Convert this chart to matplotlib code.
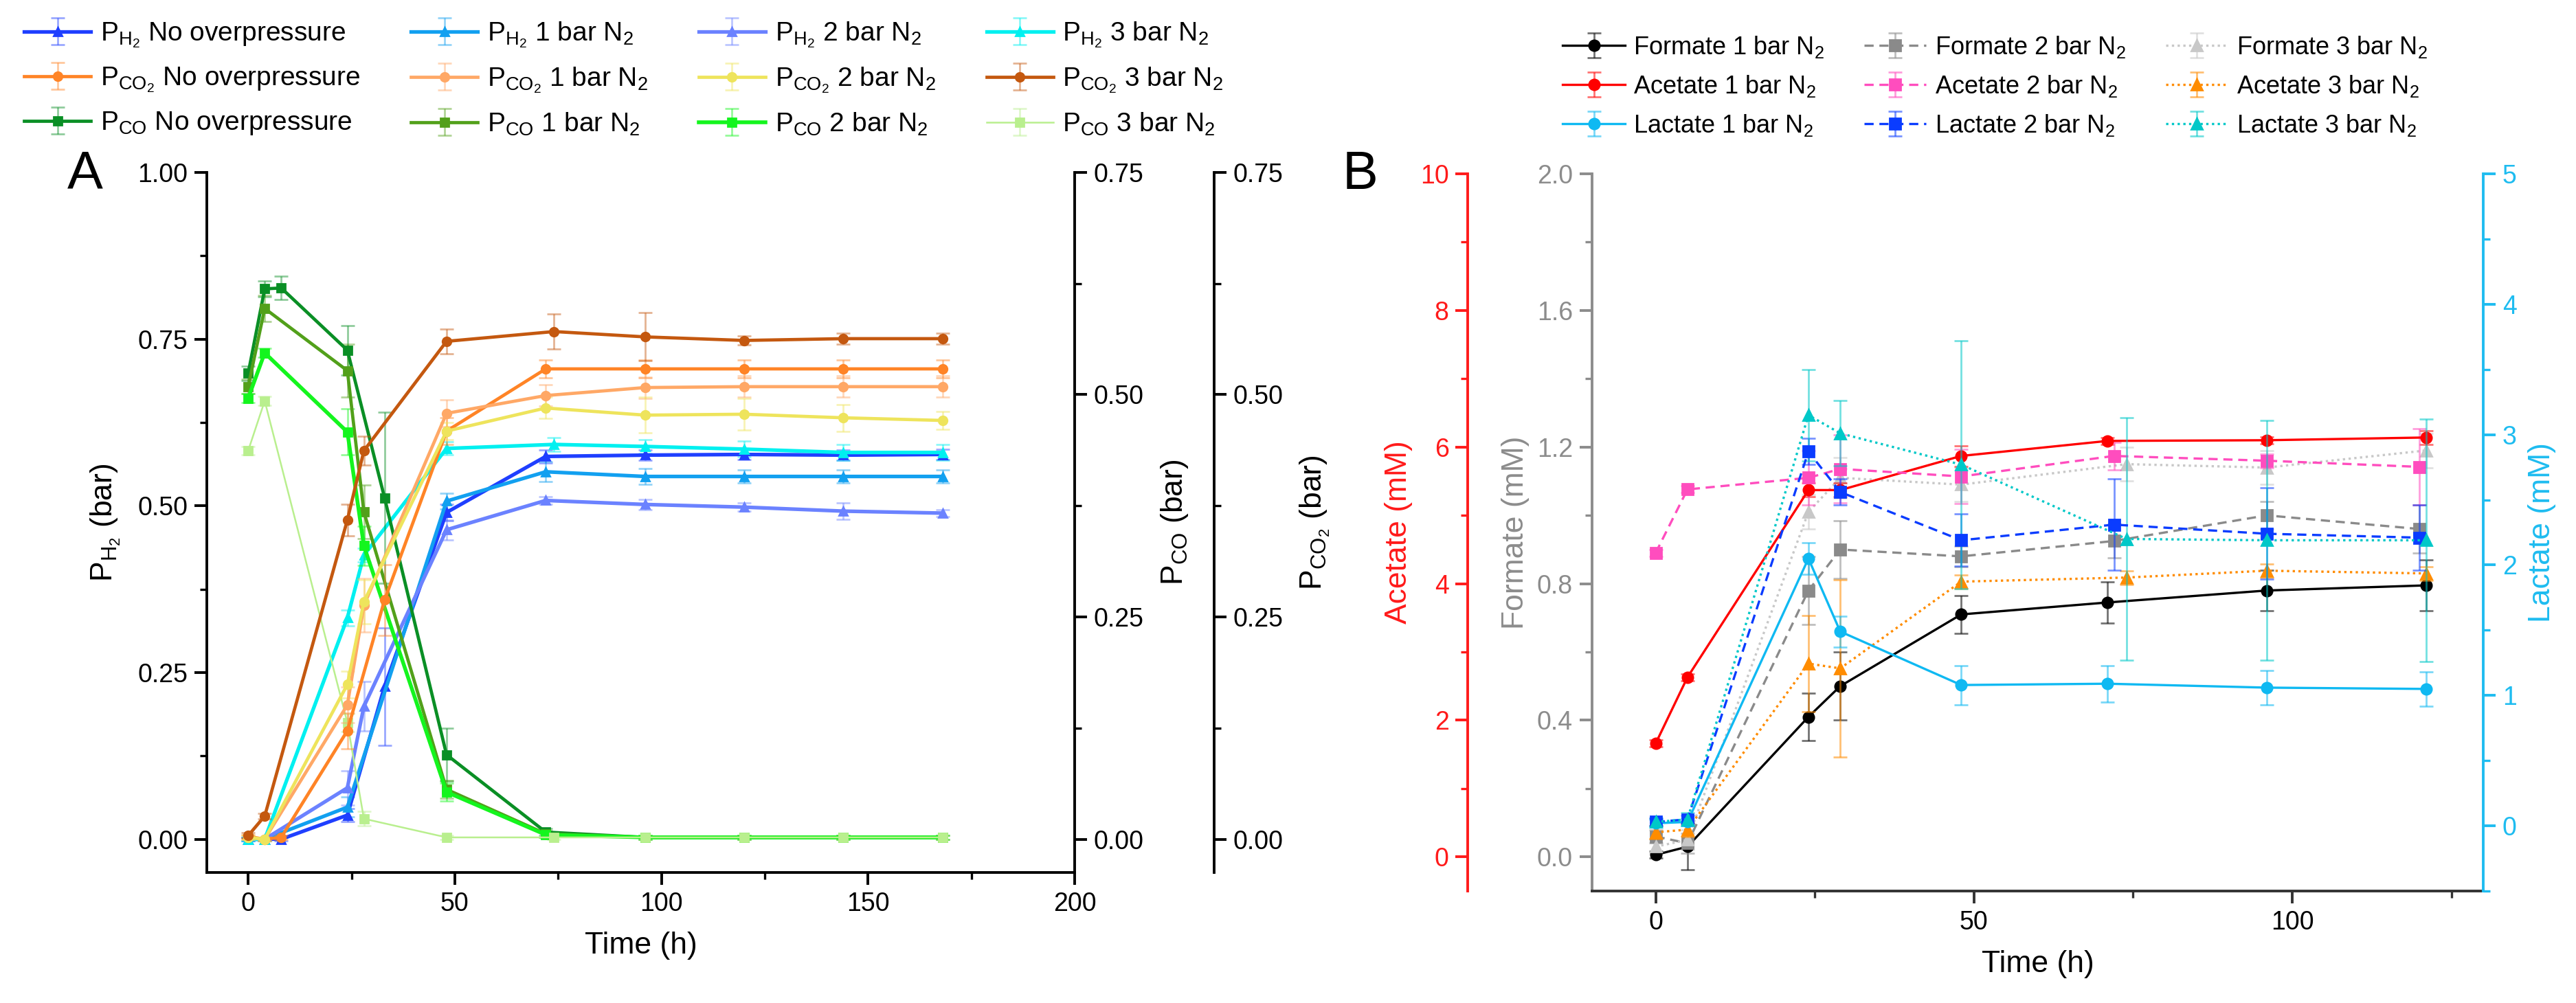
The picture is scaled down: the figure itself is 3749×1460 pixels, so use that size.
import numpy as np
import matplotlib
matplotlib.use("Agg")
import matplotlib.pyplot as plt
from matplotlib.ticker import MultipleLocator, FormatStrFormatter
from matplotlib.colors import to_rgba

plt.rcParams["font.family"] = ["Liberation Sans", "DejaVu Sans"]
plt.rcParams["mathtext.fontset"] = "custom"
plt.rcParams["mathtext.rm"] = "Liberation Sans"
plt.rcParams["mathtext.it"] = "Liberation Sans:italic"
plt.rcParams["mathtext.default"] = "regular"

nan = np.nan

# ---------------- Panel A data (H2 in left-axis bar, CO / CO2 in their own bar axes) ----------------
t_no = [0, 4, 8, 24, 33, 48, 72, 96, 120, 144, 168]
t_1bar = [0, 4, 24, 28, 48, 72, 96, 120, 144, 168]
t_2bar = [0, 4, 24, 28, 48, 72, 96, 120, 144, 168]
t_3bar = [0, 4, 24, 28, 48, 74, 96, 120, 144, 168]

h2_no = [0.0, 0.0, 0.0, 0.036, 0.229, 0.490, 0.574, 0.576, 0.577, 0.576, 0.577]
h2_1 = [0.0, 0.0, 0.048, nan, 0.507, 0.551, 0.544, 0.544, 0.544, 0.544]
h2_2 = [0.0, 0.0, 0.077, 0.199, 0.464, 0.508, 0.502, 0.498, 0.492, 0.489]
h2_3 = [0.0, 0.0, 0.332, 0.426, 0.586, 0.592, 0.589, 0.585, 0.580, 0.580]
h2_no_err = [0.003, 0.003, 0.003, 0.010, 0.088, 0.012, 0.010, 0.008, 0.008, 0.008, 0.008]
h2_1_err = [0.003, 0.003, 0.015, nan, 0.012, 0.015, 0.012, 0.010, 0.010, 0.010]
h2_2_err = [0.003, 0.003, 0.026, 0.037, 0.015, 0.006, 0.008, 0.006, 0.012, 0.005]
h2_3_err = [0.003, 0.003, 0.012, 0.010, 0.010, 0.010, 0.010, 0.012, 0.012, 0.012]

co2_no = [0.003, 0.0, 0.002, 0.122, 0.269, 0.459, 0.529, 0.529, 0.529, 0.529, 0.529]
co2_1 = [0.002, 0.0, 0.151, 0.263, 0.479, 0.499, 0.508, 0.509, 0.509, 0.509]
co2_2 = [0.002, 0.0, 0.174, 0.267, 0.459, 0.485, 0.477, 0.478, 0.474, 0.471]
co2_3 = [0.004, 0.026, 0.359, 0.437, 0.560, 0.571, 0.565, 0.561, 0.563, 0.563]
co2_no_err = [0.002, 0.002, 0.002, 0.020, 0.040, 0.015, 0.010, 0.010, 0.010, 0.010, 0.010]
co2_1_err = [0.002, 0.002, 0.020, 0.030, 0.015, 0.012, 0.012, 0.012, 0.012, 0.012]
co2_2_err = [0.002, 0.002, 0.015, 0.025, 0.010, 0.012, 0.020, 0.018, 0.015, 0.010]
co2_3_err = [0.003, 0.003, 0.018, 0.016, 0.014, 0.020, 0.027, 0.005, 0.006, 0.006]

co_no = [0.524, 0.619, 0.620, 0.550, 0.384, 0.095, 0.008, 0.002, 0.002, 0.002, 0.002]
co_1 = [0.509, 0.597, 0.527, 0.368, 0.056, 0.006, 0.002, 0.002, 0.002, 0.002]
co_2 = [0.496, 0.547, 0.458, 0.330, 0.053, 0.005, 0.002, 0.002, 0.002, 0.002]
co_3 = [0.437, 0.493, 0.131, 0.023, 0.002, 0.002, 0.002, 0.002, 0.002, 0.002]
co_no_err = [0.008, 0.009, 0.013, 0.028, 0.096, 0.030, 0.004, 0.002, 0.002, 0.002, 0.002]
co_1_err = [0.008, 0.015, 0.030, 0.030, 0.010, 0.004, 0.002, 0.002, 0.002, 0.002]
co_2_err = [0.005, 0.005, 0.026, 0.022, 0.010, 0.003, 0.002, 0.002, 0.002, 0.002]
co_3_err = [0.005, 0.005, 0.010, 0.008, 0.002, 0.002, 0.002, 0.002, 0.002, 0.002]

# ---------------- Panel B data ----------------
t_b1 = [0, 5, 24, 29, 48, 71, 96, 121]
t_b2 = [0, 5, 24, 29, 48, 72, 96, 120]
t_b3 = [0, 5, 24, 29, 48, 74, 96, 121]

formate_1 = [0.006, 0.03, 0.41, 0.50, 0.71, 0.745, 0.78, 0.795]
acetate_1 = [1.66, 2.63, 5.37, 5.37, 5.87, 6.09, 6.10, 6.14]
lactate_1 = [0.02, 0.03, 2.05, 1.49, 1.08, 1.09, 1.06, 1.05]
formate_2 = [0.06, 0.04, 0.78, 0.90, 0.88, 0.925, 1.00, 0.96]
acetate_2 = [4.45, 5.38, 5.55, 5.68, 5.57, 5.87, 5.80, 5.71]
lactate_2 = [0.03, 0.05, 2.87, 2.56, 2.19, 2.31, 2.24, 2.21]
formate_3 = [0.03, 0.05, 1.01, 1.11, 1.09, 1.15, 1.14, 1.19]
acetate_3 = [0.36, 0.40, 2.83, 2.76, 4.03, 4.09, 4.19, 4.15]
lactate_3 = [0.03, 0.05, 3.15, 3.01, 2.77, 2.20, 2.19, 2.19]

formate_1_err = [0.01, 0.067, 0.07, 0.10, 0.055, 0.06, 0.06, 0.075]
acetate_1_err = [0.05, 0.05, 0.10, 0.10, 0.15, 0.05, 0.05, 0.10]
lactate_1_err = [0.03, 0.03, 0.12, 0.12, 0.15, 0.14, 0.13, 0.13]
formate_2_err = [0.02, 0.03, 0.10, 0.085, 0.03, 0.05, 0.04, 0.07]
acetate_2_err = [0.05, 0.05, 0.40, 0.50, 0.40, 0.20, 0.10, 0.56]
lactate_2_err = [0.03, 0.03, 0.10, 0.10, 0.20, 0.35, 0.35, 0.25]
formate_3_err = [0.02, 0.03, 0.05, 0.06, 0.05, 0.05, 0.05, 0.05]
acetate_3_err = [0.10, 0.10, 0.70, 1.30, 0.10, 0.10, 0.10, 0.10]
lactate_3_err = [0.03, 0.05, 0.35, 0.25, 0.95, 0.93, 0.92, 0.93]

TICK_FS = 13.5
LABEL_FS = 16


def draw(ax, t, y, err, color, marker, label, ls="-", lw=1.6, ms=4.0, ealpha=0.45):
    t = np.asarray(t, float)
    y = np.asarray(y, float)
    err = np.asarray(err, float)
    ok = ~np.isnan(y)
    return ax.errorbar(t[ok], y[ok], yerr=err[ok], color=color, marker=marker, ms=ms,
                       lw=lw, ls=ls, ecolor=to_rgba(color, ealpha), elinewidth=1.0,
                       capsize=3.5, capthick=1.0, label=label)


def style_spines(ax, keep, color="black"):
    for side, sp in ax.spines.items():
        sp.set_visible(side in keep)
        sp.set_linewidth(1.4)
        sp.set_color(color)


fig = plt.figure(figsize=(18.745, 7.3), dpi=200)

# ================= Panel A =================
ax_a = fig.add_axes([0.0803, 0.1301, 0.3369, 0.6980])
ax_co = ax_a.twinx()
ax_co2 = ax_a.twinx()
ax_co2.spines["right"].set_position(("outward", 73))

ax_a.set_xlim(-10, 200)
ax_a.set_ylim(-0.05, 1.0)
ax_co.set_ylim(-0.0375, 0.75)
ax_co2.set_ylim(-0.0375, 0.75)

style_spines(ax_a, ("left", "bottom"))
style_spines(ax_co, ("right",))
style_spines(ax_co2, ("right",))

c_h2 = ["#1f3fff", "#12a0f0", "#6b82ff", "#00f0f0"]
c_co2 = ["#ff8426", "#ffa866", "#eee45c", "#c4580f"]
c_co = ["#0a8f25", "#52a01a", "#14f51e", "#b9ef8e"]
conds = ["No overpressure", "1 bar N$_2$", "2 bar N$_2$", "3 bar N$_2$"]
times = [t_no, t_1bar, t_2bar, t_3bar]

h2_sets = [(h2_no, h2_no_err), (h2_1, h2_1_err), (h2_2, h2_2_err), (h2_3, h2_3_err)]
co2_sets = [(co2_no, co2_no_err), (co2_1, co2_1_err), (co2_2, co2_2_err), (co2_3, co2_3_err)]
co_sets = [(co_no, co_no_err), (co_1, co_1_err), (co_2, co_2_err), (co_3, co_3_err)]
co_lw = [1.7, 1.7, 2.0, 0.9]

handles_a = []
for i in range(4):
    hh = draw(ax_a, times[i], *h2_sets[i], c_h2[i], "^", "P$_{H_2}$ " + conds[i], lw=1.9, ms=4.5)
    hc2 = draw(ax_co2, times[i], *co2_sets[i], c_co2[i], "o", "P$_{CO_2}$ " + conds[i],
               lw=1.7, ms=4.5)
    hc = draw(ax_co, times[i], *co_sets[i], c_co[i], "s", "P$_{CO}$ " + conds[i],
              lw=co_lw[i], ms=4.5)
    handles_a += [hh, hc2, hc]

ax_a.xaxis.set_major_locator(MultipleLocator(50))
ax_a.xaxis.set_minor_locator(MultipleLocator(25))
ax_a.yaxis.set_major_locator(MultipleLocator(0.25))
ax_a.yaxis.set_minor_locator(MultipleLocator(0.125))
ax_a.yaxis.set_major_formatter(FormatStrFormatter("%.2f"))
for ax in (ax_co, ax_co2):
    ax.yaxis.set_major_locator(MultipleLocator(0.25))
    ax.yaxis.set_minor_locator(MultipleLocator(0.125))
    ax.yaxis.set_major_formatter(FormatStrFormatter("%.2f"))

for ax in (ax_a, ax_co, ax_co2):
    ax.tick_params(which="major", length=6.5, width=1.4, labelsize=TICK_FS, direction="out")
    ax.tick_params(which="minor", length=3.5, width=1.2, direction="out")

ax_a.set_xlabel("Time (h)", fontsize=LABEL_FS, labelpad=8)
ax_a.set_ylabel("P$_{H_2}$ (bar)", fontsize=LABEL_FS, labelpad=8)
ax_co.set_ylabel("P$_{CO}$ (bar)", fontsize=LABEL_FS, labelpad=8)
ax_co2.set_ylabel("P$_{CO_2}$ (bar)", fontsize=LABEL_FS, labelpad=8)
ax_co.yaxis.label.set_rotation(90)
ax_co2.yaxis.label.set_rotation(90)

fig.text(0.033, 0.826, "A", fontsize=28, ha="center", va="center")

fig.legend(handles=handles_a, loc="upper left", bbox_to_anchor=(0.0, 1.004), ncol=4,
           frameon=False, fontsize=14, handlelength=2.5, handletextpad=0.35,
           columnspacing=1.9, labelspacing=0.6)

# ================= Panel B =================
ax_b = fig.add_axes([0.6180, 0.1116, 0.3460, 0.7151])
ax_ac = ax_b.twinx()
ax_lac = ax_b.twinx()

grey, red, sky = "#8c8c8c", "#ff1a1a", "#1ebcf0"

ax_b.set_xlim(-10, 130)
ax_b.set_ylim(-0.1, 2.0)
ax_ac.set_ylim(-0.5, 10)
ax_lac.set_ylim(-0.5, 5)

for side, sp in ax_b.spines.items():
    sp.set_visible(side in ("left", "bottom"))
    sp.set_linewidth(1.4)
ax_b.spines["left"].set_color(grey)
ax_b.spines["bottom"].set_color("#333333")

ax_ac.yaxis.tick_left()
ax_ac.yaxis.set_label_position("left")
style_spines(ax_ac, ("left",), red)
ax_ac.spines["left"].set_position(("outward", 65))
style_spines(ax_lac, ("right",), sky)

b_sets = [
    (ax_b, t_b1, formate_1, formate_1_err, "#000000", "o", "-", "Formate 1 bar N$_2$"),
    (ax_ac, t_b1, acetate_1, acetate_1_err, "#ff0000", "o", "-", "Acetate 1 bar N$_2$"),
    (ax_lac, t_b1, lactate_1, lactate_1_err, "#0fb9f2", "o", "-", "Lactate 1 bar N$_2$"),
    (ax_b, t_b2, formate_2, formate_2_err, "#8a8a8a", "s", (0, (4, 2.5)), "Formate 2 bar N$_2$"),
    (ax_ac, t_b2, acetate_2, acetate_2_err, "#ff4dbe", "s", (0, (4, 2.5)), "Acetate 2 bar N$_2$"),
    (ax_lac, t_b2, lactate_2, lactate_2_err, "#0a3cff", "s", (0, (4, 2.5)), "Lactate 2 bar N$_2$"),
    (ax_b, t_b3, formate_3, formate_3_err, "#c8c8c8", "^", (0, (1, 1.5)), "Formate 3 bar N$_2$"),
    (ax_ac, t_b3, acetate_3, acetate_3_err, "#ff8c00", "^", (0, (1, 1.5)), "Acetate 3 bar N$_2$"),
    (ax_lac, t_b3, lactate_3, lactate_3_err, "#00c8c8", "^", (0, (1, 1.5)), "Lactate 3 bar N$_2$"),
]
handles_b = []
for ax, t, y, e, c, m, ls, lab in b_sets:
    handles_b.append(draw(ax, t, y, e, c, m, lab, ls=ls, lw=1.2, ms=5.5, ealpha=0.55))

ax_b.xaxis.set_major_locator(MultipleLocator(50))
ax_b.xaxis.set_minor_locator(MultipleLocator(25))
ax_b.yaxis.set_major_locator(MultipleLocator(0.4))
ax_b.yaxis.set_minor_locator(MultipleLocator(0.2))
ax_b.yaxis.set_major_formatter(FormatStrFormatter("%.1f"))
ax_ac.yaxis.set_major_locator(MultipleLocator(2))
ax_ac.yaxis.set_minor_locator(MultipleLocator(1))
ax_lac.yaxis.set_major_locator(MultipleLocator(1))
ax_lac.yaxis.set_minor_locator(MultipleLocator(0.5))

for ax in (ax_b, ax_ac, ax_lac):
    ax.tick_params(which="major", length=6.5, width=1.4, labelsize=TICK_FS, direction="out")
    ax.tick_params(which="minor", length=3.5, width=1.2, direction="out")
ax_b.tick_params(axis="x", which="both", color="#333333")
ax_b.tick_params(axis="y", which="both", color=grey, labelcolor=grey)
ax_ac.tick_params(axis="y", which="both", color=red, labelcolor=red)
ax_lac.tick_params(axis="y", which="both", color=sky, labelcolor=sky)

ax_b.set_xlabel("Time (h)", fontsize=LABEL_FS, labelpad=8)
ax_b.set_ylabel("Formate (mM)", fontsize=LABEL_FS, color=grey, labelpad=4)
ax_ac.set_ylabel("Acetate (mM)", fontsize=LABEL_FS, color=red, labelpad=4)
ax_lac.set_ylabel("Lactate (mM)", fontsize=LABEL_FS, color=sky, labelpad=6)

fig.text(0.528, 0.826, "B", fontsize=28, ha="center", va="center")

fig.legend(handles=handles_b, loc="upper left", bbox_to_anchor=(0.598, 0.988), ncol=3,
           frameon=False, fontsize=13, handlelength=2.5, handletextpad=0.35,
           columnspacing=1.6, labelspacing=0.55)

fig.savefig("out.png", dpi=200)
